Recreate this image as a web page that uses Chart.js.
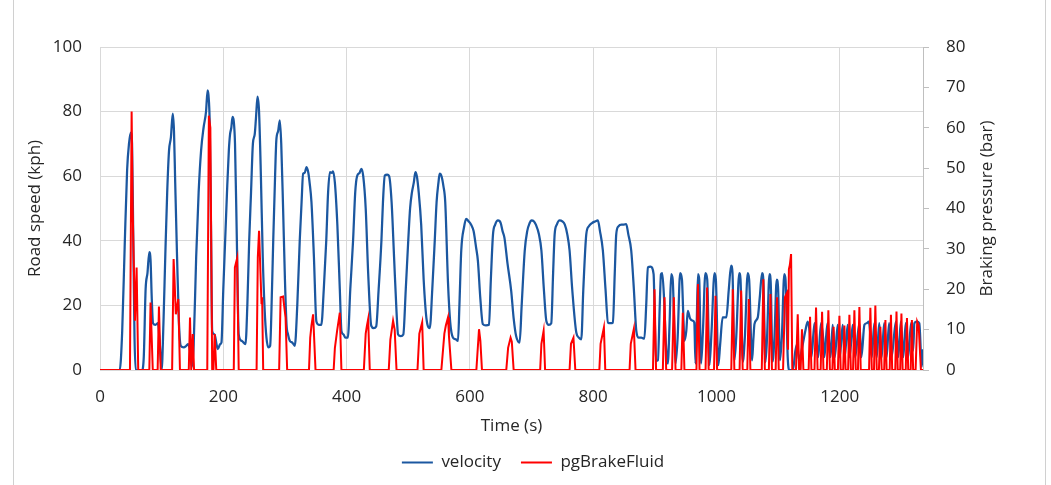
<!DOCTYPE html>
<html>
<head>
<meta charset="utf-8">
<script src="https://cdn.jsdelivr.net/npm/chart.js@4.4.1/dist/chart.umd.min.js"></script>
<style>
  body { margin: 0; background: #fff; }
  canvas { display: block; }
</style>
</head>
<body>
<canvas id="myChart" width="1051" height="485"></canvas>
<script>
// series labels and axis titles
const seriesNames = ['velocity', 'pgBrakeFluid'];
const axisTitles = ['Time (s)', 'Road speed (kph)', 'Braking pressure (bar)'];

// axis ticks
const timeTicks = [0, 200, 400, 600, 800, 1000, 1200];
const speedTicks = [0, 20, 40, 60, 80, 100];
const pressureTicks = [0, 10, 20, 30, 40, 50, 60, 70, 80];

// road speed, [time (s), kph]
const velocity = [
  [0,0],[32,0],[36,12],[40,38],[44,62],[47,70],[50,73.5],[52,70],[54,40],[56,10],[58,0],[68,0],[71,4],[74,25],[77,30],[80,36.5],[82,34],[84,22],[86,14.5],[90,14],[94,14.5],[97,8],[100,0],
  [103,15],[106,36],[109,55],[112,68],[115,72],[118,79.4],[120,74],[122,58],[125,35],[128,15],[131,7.5],[136,7],[140,7.5],[143,8],[146,6],[149,1],
  [152,8],[156,35],[160,55],[164,68],[168,75],[172,80],[174.5,86.6],[176,85],[178,76],[180,45],[182,12],[186,11],[189,8],[191,6.5],[195,8],[197,8.5],
  [200,25],[203,40],[206,55],[209,68],[211,73],[213,75],[215,78.4],[217,77],[219,70],[222,40],[225,11],[230,9],[236,8],
  [239,20],[242,40],[245,55],[248,70],[251,73],[253,78],[255.5,84.6],[258,80],[261,60],[264,35],[267,19],[270,10],[273,7],[276,7.5],
  [279,25],[281,40],[284,60],[286,71],[289,74],[291.7,77.3],[294,70],[297,50],[300,28],[302.6,14],[305,11],[308,9],[312,8.5],[316,7.5],
  [320,20],[324,40],[327,52],[329.5,60.8],[332,61],[335,62.8],[338,61],[340,58],[343,52],[347,35],[351,15],[355,14],[359,14],
  [363,25],[367,40],[370,55],[373,61.3],[376,61],[378,61.5],[381,58],[385,45],[389,25],[391.7,12],[395,11],[398,10],[402,10],
  [406,25],[410.5,40],[414,55],[417,60],[421,61],[424,62.3],[427,60],[431,50],[435,30],[440,13.7],[444,13],[448,13.5],
  [452,25],[456.5,40],[459,52],[462,60.2],[466,60.5],[469,60],[473,52],[477,35],[481,18],[483.5,11],[488,10.5],[492,11],
  [496,25],[500,40],[503,50],[506,55],[509,58],[511.6,61.3],[514,60],[517,55],[521,45],[525,28],[529.5,16],[535,13],
  [539,25],[543,40],[546,52],[549,58],[551,60.8],[554,60],[557,57],[560,52],[564.5,27],[568,15],[572.6,10],[577,9.5],[580.7,9],
  [583,20],[586,37],[590.5,44.2],[594,46.8],[598,46],[602,45],[606,43],[610,38],[613,33.8],[617,22],[621,14.2],[626,13.8],[631,14],
  [634,28],[637.5,42],[641,45],[645.6,46.3],[650,45.5],[653,43],[656,41],[661,33],[667,24.5],[671,16],[675,10.5],[680.7,8.5],
  [684,20],[689,37],[693,43],[697,45.5],[699.6,46.3],[704,46],[707,45],[712,42],[716,37],[720,25],[724,15.2],[728,14],[732,14.5],
  [735,30],[737.5,42],[741,45],[745.5,46.3],[750,46],[754,45],[758,42],[761.7,37],[766,25],[772.6,11.6],[777,10],[780.7,9.5],
  [784,25],[788.8,42],[793,44.5],[798,45.5],[803,46],[807.6,46.3],[811,43],[815.7,37],[820,25],[824,14.7],[828,14.5],[832,14.7],
  [835,30],[837.4,42],[841,44.5],[846,45],[850,45],[853.5,45.2],[857,42],[861.7,37],[866,25],[870,12],[874,10],[878,10],
  [883,9.7],[886,20],[888.7,31.8],[893,32],[898,29.7],[900,15],[902,2.8],[905,3],[908,20],[910,29.7],[912,30],[915,22],[918,8],[921,2],
  [924,15],[926.5,29.7],[929,28],[932,10],[933.6,2],[937,10],[941,30],[944,28],[946,18],[948,9],[951,12],[953.5,18.3],[957,16],[961,15.3],[964,14.7],[966,2],
  [968,15],[970,29.7],[972,28],[975,2],[978,12],[982,30],[985,28],[988.6,1.5],[992,12],[996.8,30],[999,28],[1003,1.5],
  [1006,8],[1010,16.3],[1016,16.3],[1020,25],[1023.7,32.3],[1026,30],[1029,3],[1032,10],[1037,30],[1039,28],[1042.7,2.5],
  [1046,10],[1050.7,30],[1053,28],[1057.7,3],[1060,10],[1061.6,14.2],[1067,16.3],[1070,22],[1074,30],[1076,28],[1079.4,2.4],
  [1082,10],[1086,29.7],[1088,27],[1091,2.6],[1094,10],[1097.7,28],[1100,25],[1103,3],[1106,10],[1110,29.7],[1112,28],[1115.6,3.8],[1118,0],[1124,0],
  [1128,6],[1131,8],[1134,3],[1140,8],[1144,12],[1148,15],[1151,12],[1154,4],[1159,14.5],[1162,10],[1165,4],[1169.6,14.5],[1173,10],[1175,4],
  [1180,14.5],[1183,8],[1185,4],[1188.5,14],[1192,4],[1196.6,14],[1200,4],[1204.7,14],[1208,4],[1212.8,14],[1216,4],[1221,14],[1225,4],
  [1231.8,14.5],[1235,4],[1240,14],[1244,14.5],[1247,15],[1250,10],[1252,4],[1256,14.5],[1260,4],[1264,14.5],[1268,4],[1272,14.5],[1276,4],
  [1280,14.5],[1284,4],[1291,15],[1295,4],[1299,15],[1303,4],[1307,14.5],[1311,4],[1315.6,14.5],[1319,6],[1321,14.5],[1325,15],[1329,14.5],[1333,1],[1335,6.4]
];

// braking pressure, [time (s), bar]
const brakeFluid = [
  [0,0],[48.6,0],[51.3,64],[53,40],[56.7,12.2],[59.4,25.4],[62,0],
  [80,0],[82,16.7],[85.6,0],[93.5,0],[95.6,15.7],[98.5,0],
  [117,0],[119.4,27.5],[121,22],[123,13.8],[127,17.6],[129.7,0],
  [144,0],[146,13],[148,0],[149,0],[150.5,8.9],[152.6,0],
  [174,0],[176.6,63],[179,60],[182,0],[184,0],[186,8.9],[188.6,0],
  [217,0],[218.8,25.4],[222.5,27.7],[225,0],
  [254,0],[256,28],[258,34.5],[262,16.3],[263,18],[264.7,0],
  [290.6,0],[293,18],[297,18.2],[301,13],[303.6,0],
  [339,0],[341,8],[343,11],[345.7,13.8],[349.6,0],
  [379,0],[381,5.4],[384.6,9.7],[389,14.2],[391.6,0],
  [428,0],[431,9],[433,11],[435,12.6],[437.6,0],
  [468.4,0],[471,7.5],[475.4,12.2],[478,10],[481,0],
  [515,0],[518,9],[522.6,11.8],[525,0],
  [553.7,0],[558.6,9],[561,11],[564.5,13],[566,8.5],[570,0],
  [610.5,0],[614.8,10.1],[617,7.2],[619.6,0],
  [659,0],[662,5.5],[666,8],[668,7],[671,0],
  [714,0],[716,6.5],[719.6,9.7],[722,0],
  [761.7,0],[764,6.5],[768,8],[771,0],
  [810,0],[812,6.5],[817.4,10.5],[819.6,0],
  [859,0],[861,6.5],[866,10.2],[868.7,0],
  [897,0],[899.5,20],[902,0],[913,0],[915.7,18],[918.4,0],[928,0],[930.8,18],[933.6,0],[943,0],[945.4,14.2],[948,0],
  [967.5,0],[970,21.3],[972.5,0],[982.3,0],[984.8,20.4],[987.3,0],[996,0],[998.4,18.4],[1001,0],
  [1024,0],[1026.5,20],[1029,0],[1037.5,0],[1040,19.7],[1042.5,0],[1050,0],[1052.4,17.6],[1055,0],
  [1073.5,0],[1076,22.5],[1078.5,0],[1085,0],[1087.5,18.8],[1090,0],[1096,0],[1098.3,18],[1101,0],
  [1108,0],[1111,18],[1114,19],[1116,5],[1117.5,25],[1119,26],[1121,28.7],[1123,0],
  [1129,0],[1131.8,13.8],[1134,0],[1136.5,0],[1138.7,10.1],[1141,0],[1149.5,0],[1151.8,13.2],[1154,0],
  [1159,0],[1161.5,15.5],[1164,0],[1169,0],[1171.3,14.4],[1173.5,0],[1179,0],[1181.5,14.8],[1184,0],
  [1188,0],[1190,10.7],[1192,0],[1197,0],[1199.4,13.4],[1201.5,0],[1205.5,0],[1207.5,11],[1209.5,0],
  [1213.5,0],[1215.6,13.7],[1218,0],[1221.5,0],[1223.7,14.8],[1226,0],[1229.5,0],[1231.8,15.6],[1234,0],
  [1247.5,0],[1249.6,15.4],[1252,0],[1255.5,0],[1257.7,16],[1260,0],[1263.5,0],[1265.8,10.7],[1268,0],
  [1272,0],[1274,12.4],[1276,0],[1281,0],[1283,13.7],[1285,0],[1290,0],[1292,14.5],[1294,0],
  [1298,0],[1300,14],[1302,0],[1307,0],[1309,12.9],[1311,0],[1315,0],[1317,12.4],[1319,0],
  [1323,0],[1325.6,12],[1328,11],[1331.6,0],[1335,0]
];

const blue = '#1b57a0';
const red = '#ff0000';
const gridColor = '#d9d9d9';
const textColor = '#262626';

Chart.defaults.font.family = "'Open Sans', sans-serif";
Chart.defaults.font.size = 17;
Chart.defaults.color = textColor;

function toPoints(pairs) {
  return pairs.map(function(p) { return {x: p[0], y: p[1]}; });
}

function keepTicks(list) {
  return function(scale) {
    scale.ticks = scale.ticks.filter(function(t) { return list.indexOf(t.value) !== -1; });
  };
}

function plainNumber(value) {
  return String(value);
}

// white background and the thin chart frame
const framePlugin = {
  id: 'frame',
  beforeDraw(chart) {
    const ctx = chart.ctx;
    ctx.save();
    ctx.fillStyle = '#fff';
    ctx.fillRect(0, 0, chart.width, chart.height);
    ctx.strokeStyle = '#d0d0d0';
    ctx.lineWidth = 1;
    ctx.beginPath();
    ctx.moveTo(13.5, 0); ctx.lineTo(13.5, chart.height);
    ctx.moveTo(1045.5, 0); ctx.lineTo(1045.5, chart.height);
    ctx.stroke();
    ctx.restore();
  }
};

// Chart.js turns a right-hand title the other way, so draw it reading upwards like Excel does
const rightTitlePlugin = {
  id: 'rightTitle',
  afterDraw(chart) {
    const scale = chart.scales.yPressure;
    const ctx = chart.ctx;
    ctx.save();
    ctx.translate(scale.right - 64, (scale.top + scale.bottom) / 2);
    ctx.rotate(-Math.PI / 2);
    ctx.font = "17px 'Open Sans', sans-serif";
    ctx.fillStyle = textColor;
    ctx.textAlign = 'center';
    ctx.textBaseline = 'middle';
    ctx.fillText(axisTitles[2], 0, 0);
    ctx.restore();
  }
};

new Chart(document.getElementById('myChart'), {
  type: 'line',
  data: {
    datasets: [{
      label: seriesNames[0],
      data: toPoints(velocity),
      yAxisID: 'ySpeed',
      borderColor: blue,
      backgroundColor: blue,
      borderWidth: 2.25,
      pointRadius: 0,
      cubicInterpolationMode: 'monotone',
      order: 1
    }, {
      label: seriesNames[1],
      data: toPoints(brakeFluid),
      yAxisID: 'yPressure',
      borderColor: red,
      backgroundColor: red,
      borderWidth: 2,
      pointRadius: 0,
      tension: 0,
      order: 0
    }]
  },
  options: {
    responsive: false,
    animation: false,
    devicePixelRatio: 1,
    layout: { padding: { left: 15, right: 0, top: 47, bottom: 4 } },
    plugins: {
      tooltip: { enabled: false },
      legend: {
        position: 'bottom',
        labels: {
          boxWidth: 31,
          boxHeight: 2,
          padding: 20,
          color: textColor,
          sort: function(a, b) { return a.datasetIndex - b.datasetIndex; },
          generateLabels: function(chart) {
            const items = Chart.defaults.plugins.legend.labels.generateLabels(chart);
            items.forEach(function(item) {
              item.lineWidth = 0;
              item.fillStyle = item.strokeStyle;
            });
            return items;
          }
        }
      }
    },
    scales: {
      x: {
        type: 'linear',
        min: 0,
        max: 1335,
        ticks: { stepSize: 200, padding: 17, color: textColor, callback: plainNumber },
        afterBuildTicks: keepTicks(timeTicks),
        afterFit: function(scale) { scale.height = 64; },
        grid: { color: gridColor, drawTicks: false },
        border: { color: gridColor },
        title: { display: true, text: axisTitles[0], color: textColor, padding: { top: 0, bottom: -2 } }
      },
      ySpeed: {
        position: 'left',
        min: 0,
        max: 100,
        ticks: { stepSize: 20, padding: 18, color: textColor, callback: plainNumber },
        afterBuildTicks: keepTicks(speedTicks),
        afterFit: function(scale) { scale.width = 85; },
        grid: { color: gridColor, drawTicks: false },
        border: { color: gridColor },
        title: { display: true, text: axisTitles[1], color: textColor, padding: { top: 10, bottom: 0 } }
      },
      yPressure: {
        position: 'right',
        min: 0,
        max: 80,
        ticks: { stepSize: 10, padding: 17, color: textColor, callback: plainNumber },
        afterBuildTicks: keepTicks(pressureTicks),
        afterFit: function(scale) { scale.width = 128; },
        grid: { drawOnChartArea: false, drawTicks: true, tickLength: 6, color: '#bfbfbf' },
        border: { color: '#bfbfbf' },
        title: { display: false, text: axisTitles[2] }
      }
    }
  },
  plugins: [framePlugin, rightTitlePlugin]
});
</script>
</body>
</html>
